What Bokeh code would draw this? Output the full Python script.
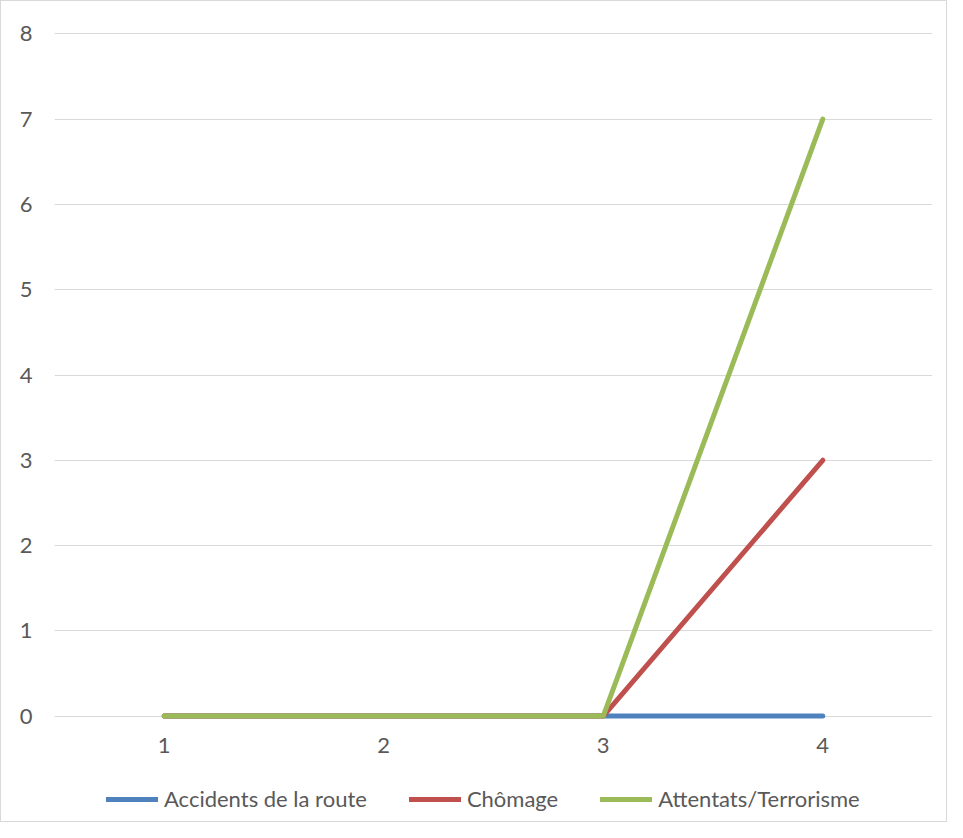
from bokeh.plotting import figure
from bokeh.layouts import column
from bokeh.models import Range1d, FactorRange, Legend, LegendItem, SingleIntervalTicker
from bokeh.embed import file_html
from bokeh.resources import INLINE

categories = ["1", "2", "3", "4"]
accidents = [0, 0, 0, 0]
chomage = [0, 0, 0, 3]
attentats = [0, 0, 0, 7]
series_names = ["Accidents de la route", "Chômage", "Attentats/Terrorisme"]
colors = ["#4F81BD", "#C0504D", "#9BBB59"]

FONT = "Lato"
TXT = "#595959"

p = figure(width=945, height=770, output_backend="svg", toolbar_location=None,
           x_range=FactorRange(*categories, range_padding=0),
           y_range=Range1d(-0.04, 8.04),
           min_border_left=53, min_border_right=14, min_border_top=29, min_border_bottom=52)
p.outline_line_color = None
p.background_fill_color = "white"
p.border_fill_color = "white"

for vals, c in zip([accidents, chomage, attentats], colors):
    p.line(categories, vals, line_color=c, line_width=5, line_cap="round", line_join="round")

p.xgrid.grid_line_color = None
p.ygrid.grid_line_color = "#d9d9d9"
p.ygrid.grid_line_width = 1
p.yaxis.ticker = SingleIntervalTicker(interval=1)

for ax in (p.xaxis[0], p.yaxis[0]):
    ax.axis_line_color = None
    ax.major_tick_line_color = None
    ax.minor_tick_line_color = None
    ax.major_label_text_font = FONT
    ax.major_label_text_font_size = "22px"
    ax.major_label_text_color = TXT
p.yaxis.major_label_standoff = 16
p.xaxis.major_label_standoff = 12

# legend strip (its frame is aligned with the main plot's frame by the column layout)
lg = figure(width=945, height=50, output_backend="svg", toolbar_location=None,
            x_axis_type=None, y_axis_type=None,
            x_range=Range1d(0, 1), y_range=Range1d(0, 1),
            min_border_left=0, min_border_right=0, min_border_top=0, min_border_bottom=0)
lg.outline_line_color = None
lg.xgrid.grid_line_color = None
lg.ygrid.grid_line_color = None
nan = float("nan")
lg_renderers = []
for c in colors:
    r = lg.line(x=[nan], y=[nan], line_color=c, line_width=5, line_cap="round")
    lg_renderers.append(r)

legend = Legend(items=[LegendItem(label=n, renderers=[r]) for n, r in zip(series_names, lg_renderers)],
                orientation="horizontal", location=(52, 9),
                label_text_font=FONT, label_text_font_size="22px", label_text_color=TXT,
                glyph_width=52, glyph_height=24, label_standoff=6, spacing=42,
                padding=0, margin=0, border_line_color=None, background_fill_alpha=0)
lg.add_layout(legend, "center")

layout = column(p, lg, spacing=0)
layout.styles = {"border": "1px solid #d9d9d9"}

open("out.html", "w").write(file_html(layout, INLINE))
